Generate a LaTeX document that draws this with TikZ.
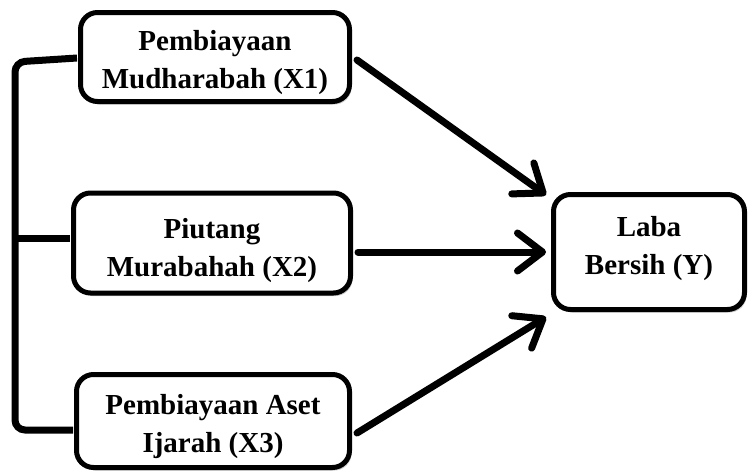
\documentclass[tikz,border=0pt]{standalone}
\usepackage{fontspec}
\setmainfont{Liberation Serif}
\usetikzlibrary{arrows.meta,calc,shadows}
\begin{document}
\begin{tikzpicture}[x=1pt,y=-1pt,
 box/.style={draw=black, line width=5pt, rounded corners=17pt, fill=white,
   drop shadow={shadow xshift=2pt,shadow yshift=-3pt,fill=black!40,opacity=0.5}, inner sep=0pt},
 lbl/.style={font=\fontsize{29}{38}\selectfont\bfseries, align=center, inner sep=0pt},
 conn/.style={line width=7pt},
 arr/.style={line width=7pt, line cap=round, -{Straight Barb[length=25pt,width=38pt,line cap=round,line join=round]}}]
\useasboundingbox (0,0) rectangle (750,474);
% boxes
\node[box, minimum width=269pt, minimum height=89pt] (x1) at (215,57) {};
\node[box, minimum width=277pt, minimum height=100pt] (x2) at (212,243) {};
\node[box, minimum width=273pt, minimum height=93pt] (x3) at (213,421) {};
\node[box, minimum width=191pt, minimum height=115pt] (y) at (649,252) {};
% texts
\node[lbl] (x1t) at (215,63) {Pembiayaan\\Mudharabah (X1)};
\node[lbl] (x2t) at (212,251) {Piutang\\Murabahah (X2)};
\node[lbl] (x3t) at (213,427) {Pembiayaan Aset\\Ijarah (X3)};
\node[lbl] (yt) at (649,249) {Laba\\Bersih (Y)};
% bracket
\coordinate (bt) at (15,62);
\coordinate (bm) at (15,238);
\coordinate (bb) at (15,430);
\draw[conn, rounded corners=10pt] ($(x1.west)+(-1,1)$) -- (bt) -- (bb) -- ($(x3.west)+(-1,9)$);
\draw[conn] (bm) -- ($(x2.west)+(-1,-5)$);
% arrows
\draw[arr] ($(x1.east)+(5,3)$) -- ($(y.north west)+(-5,3)$);
\draw[arr] ($(x2.east)+(5,9)$) -- ($(y.west)+(-5,0)$);
\draw[arr] ($(x3.east)+(5,12)$) -- ($(y.south west)+(-5,5)$);
\end{tikzpicture}
\end{document}
